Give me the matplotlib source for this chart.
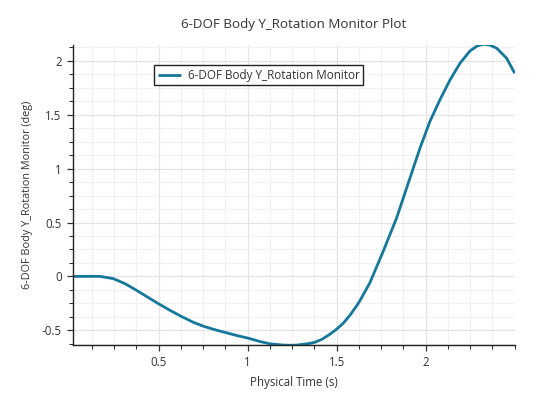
import matplotlib
matplotlib.use("Agg")
import matplotlib.pyplot as plt
from matplotlib.ticker import MultipleLocator

plt.rcParams['font.family'] = ['Open Sans', 'DejaVu Sans']

time_s = [0.02, 0.10, 0.17, 0.245, 0.311, 0.376, 0.442, 0.498, 0.563, 0.629,
          0.694, 0.751, 0.826, 0.882, 0.938, 1.003, 1.069, 1.125, 1.20, 1.24,
          1.275, 1.34, 1.378, 1.42, 1.462, 1.50, 1.537, 1.575, 1.612, 1.631,
          1.687, 1.762, 1.837, 1.912, 1.968, 2.024, 2.08, 2.137, 2.193, 2.249,
          2.29, 2.324, 2.36, 2.399, 2.455, 2.50]
rotation_deg = [0.0, 0.0, 0.0, -0.021, -0.068, -0.13, -0.197, -0.253, -0.315,
                -0.373, -0.426, -0.463, -0.50, -0.524, -0.549, -0.574, -0.605,
                -0.626, -0.638, -0.64, -0.638, -0.625, -0.612, -0.582, -0.537,
                -0.49, -0.435, -0.36, -0.274, -0.225, -0.058, 0.235, 0.543,
                0.914, 1.19, 1.439, 1.639, 1.824, 1.979, 2.093, 2.14, 2.155,
                2.148, 2.118, 2.025, 1.886]

title = "6-DOF Body Y_Rotation Monitor Plot"
series_label = "6-DOF Body Y_Rotation Monitor"
xlabel = "Physical Time (s)"
ylabel = "6-DOF Body Y_Rotation Monitor (deg)"

fig = plt.figure(figsize=(5.5, 3.99), dpi=100)
ax = fig.add_axes([0.1322, 0.1346, 0.8042, 0.7526])

ax.plot(time_s, rotation_deg, color='#15789b', lw=2.0, label=series_label,
        solid_capstyle='butt', solid_joinstyle='round')

ax.set_xlim(0.017, 2.502)
ax.set_ylim(-0.64, 2.148)
ax.xaxis.set_minor_locator(MultipleLocator(0.125))
ax.yaxis.set_minor_locator(MultipleLocator(0.125))
ax.set_xticks([0.5, 1.0, 1.5, 2.0])
ax.set_xticklabels(['0.5', '1', '1.5', '2'])
ax.set_yticks([-0.5, 0, 0.5, 1, 1.5, 2])
ax.set_yticklabels(['-0.5', '0', '0.5', '1', '1.5', '2'])

ax.grid(which='major', color='#e4e4e4', lw=0.9)
ax.grid(which='minor', color='#f1f1f1', lw=0.8)
ax.set_axisbelow(True)

for s in ['top', 'right']:
    ax.spines[s].set_visible(False)
for s in ['left', 'bottom']:
    ax.spines[s].set_color('#222222')
    ax.spines[s].set_linewidth(1.0)

ax.tick_params(which='major', direction='out', length=4, width=0.9,
               color='#333333', labelsize=8.3, labelcolor='#333333', pad=4)
ax.tick_params(which='minor', direction='out', length=3, width=0.8, color='#333333')

ax.set_title(title, fontsize=9.6, color='#333333', pad=12)
ax.set_xlabel(xlabel, fontsize=8.3, color='#333333', labelpad=5)
ax.set_ylabel(ylabel, fontsize=7.8, color='#333333', labelpad=6)

leg = ax.legend(loc='upper left', bbox_to_anchor=(0.1838, 0.932), fontsize=8.4,
                frameon=True, fancybox=False, framealpha=1, edgecolor='#222222',
                handlelength=2.0, borderpad=0.3, handletextpad=0.6,
                borderaxespad=0)
leg.get_frame().set_linewidth(1.0)
for t in leg.get_texts():
    t.set_color('#333333')

fig.savefig('out.png', dpi=100)
